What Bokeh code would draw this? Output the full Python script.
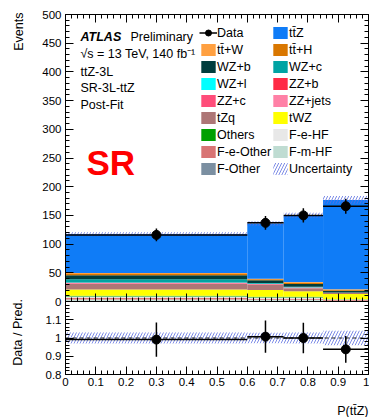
import numpy as np
from bokeh.plotting import figure
from bokeh.models import (Range1d, LinearAxis, FixedTicker, Label, Legend, LegendItem)
from bokeh.embed import file_html
from bokeh.resources import INLINE

FONT = "Liberation Sans"

# ---------------- data ----------------
bin_edges = [0.0, 0.6, 0.72, 0.85, 1.0]
data = [116, 137, 150, 166]
data_err = [11, 12, 12.5, 13]
total_unc = [3.5, 4.0, 4.5, 7.0]

# stacked backgrounds (bottom -> top)
f_other = [1.5, 1.2, 1.2, 0.6]
f_m_hf = [2.0, 1.8, 1.8, 0.9]
f_e_other = [2.5, 2.0, 2.0, 1.0]
f_e_hf = [2.5, 2.0, 2.0, 1.0]
others = [1.5, 1.4, 1.4, 0.5]
twz = [11.0, 11.6, 9.4, 9.0]
tzq = [9.5, 9.0, 5.5, 1.8]
zz_jets = [0.8, 0.6, 0.5, 0.2]
zz_c = [0.8, 0.6, 0.4, 0.2]
zz_b = [0.6, 0.4, 0.3, 0.1]
wz_l = [0.3, 0.3, 0.2, 0.1]
wz_c = [5.8, 1.5, 1.0, 0.4]
wz_b = [7.0, 4.5, 5.0, 3.0]
tth = [2.2, 1.8, 2.2, 1.5]
ttw = [1.5, 1.0, 1.1, 0.9]
ttz = [67.5, 96.3, 116.0, 155.8]

stack = [
    ("F-Other", f_other, "#7B8FA1"),
    ("F-m-HF", f_m_hf, "#BFDCD2"),
    ("F-e-Other", f_e_other, "#D87474"),
    ("F-e-HF", f_e_hf, "#E8E8E8"),
    ("Others", others, "#00A000"),
    ("tWZ", twz, "#FFFF00"),
    ("tZq", tzq, "#AD7676"),
    ("ZZ+jets", zz_jets, "#FF80A6"),
    ("ZZ+c", zz_c, "#FF4D7A"),
    ("ZZ+b", zz_b, "#FF2B45"),
    ("WZ+l", wz_l, "#00FFFF"),
    ("WZ+c", wz_c, "#00A3A3"),
    ("WZ+b", wz_b, "#003D3D"),
    ("tt\u0304+H", tth, "#D97700"),
    ("tt\u0304+W", ttw, "#FFA040"),
    ("tt\u0304Z", ttz, "#0F7CF7"),
]

x_ticks = [0.0, 0.1, 0.2, 0.3, 0.4, 0.5, 0.6, 0.7, 0.8, 0.9, 1.0]
x_tick_labels = ["0", "0.1", "0.2", "0.3", "0.4", "0.5", "0.6", "0.7", "0.8", "0.9", "1"]
y_ticks = [0, 50, 100, 150, 200, 250, 300, 350, 400, 450, 500]
r_ticks = [0.8, 0.9, 1.0, 1.1]
r_tick_labels = ["0.8", "0.9", "1", "1.1"]

legend_col1 = ["Data", "tt\u0304+W", "WZ+b", "WZ+l", "ZZ+c", "tZq", "Others", "F-e-Other", "F-Other"]
legend_col2 = ["tt\u0304Z", "tt\u0304+H", "WZ+c", "ZZ+b", "ZZ+jets", "tWZ", "F-e-HF", "F-m-HF", "Uncertainty"]

# ---------------- derived ----------------
left = np.array(bin_edges[:-1])
right = np.array(bin_edges[1:])
centers = (left + right) / 2
data_a = np.array(data, float)
derr = np.array(data_err, float)
total = np.sum([np.array(v, float) for _, v, _ in stack], axis=0)
unc = np.array(total_unc, float)

x_minor = [i / 50 for i in range(51)]
y_minor = [i * 10 for i in range(51)]
r_minor = [0.8 + i * 0.02 for i in range(21)]

# ---------------- canvas geometry (pixels) ----------------
W, H = 369, 417
X0, X1 = 65, 368          # canvas x of P=0 and P=1
MT, MB = 14, 301          # main panel top / bottom (canvas y)
RB = 374                  # ratio panel bottom
YMAX = 500.0
RLO, RHI = 0.8, 1.2

ppx = (X1 - X0) / 1.0
ppy = (MB - MT) / YMAX
ppr = (RB - MB) / (RHI - RLO)

x_range = Range1d(-X0 / ppx, (W - X0) / ppx)
y_range = Range1d(-(H - MB) / ppy, YMAX + MT / ppy)
r_range = Range1d(RLO - (H - RB) / ppr, RHI + MB / ppr)

p = figure(width=W, height=H, output_backend="svg", toolbar_location=None,
           x_range=x_range, y_range=y_range, min_border=0,
           x_axis_location=None, y_axis_location=None)
p.extra_y_ranges = {"ratio": r_range}
p.grid.visible = False
p.outline_line_color = None
p.background_fill_color = "white"
p.border_fill_color = "white"

xt = FixedTicker(ticks=x_ticks, minor_ticks=x_minor)
yt = FixedTicker(ticks=y_ticks, minor_ticks=y_minor)
rt = FixedTicker(ticks=r_ticks, minor_ticks=r_minor)


def add_axis(side, ticker, loc, bounds, labels=False, overrides=None, range_name=None):
    kw = {}
    if range_name is not None:
        kw["y_range_name"] = range_name
    ax = LinearAxis(ticker=ticker, fixed_location=loc, bounds=bounds, **kw)
    ax.major_tick_in = 8
    ax.major_tick_out = 0
    ax.minor_tick_in = 4
    ax.minor_tick_out = 0
    ax.axis_line_color = "black"
    ax.axis_line_width = 1
    ax.major_tick_line_color = "black"
    ax.minor_tick_line_color = "black"
    ax.axis_label = None
    if labels:
        ax.major_label_text_font = FONT
        ax.major_label_text_font_size = "11.5px"
        ax.major_label_text_color = "black"
        ax.major_label_standoff = 4
        if overrides:
            ax.major_label_overrides = overrides
    else:
        ax.major_label_text_font_size = "0px"
        ax.major_label_text_color = None
        ax.major_label_standoff = 0
    p.add_layout(ax, side)
    return ax


# main panel frame + ticks
add_axis("left", yt, 0.0, (0, YMAX), labels=True)
add_axis("right", yt, 1.0, (0, YMAX))
add_axis("above", xt, YMAX, (0, 1))
add_axis("below", xt, 0.0, (0, 1))
# ratio panel frame + ticks
add_axis("left", rt, 0.0, (RLO, RHI), labels=True,
         overrides={t: s for t, s in zip(r_ticks, r_tick_labels)}, range_name="ratio")
add_axis("right", rt, 1.0, (RLO, RHI), range_name="ratio")
bx = add_axis("below", xt, RLO, (0, 1), labels=True,
              overrides={t: s for t, s in zip(x_ticks, x_tick_labels)}, range_name="ratio")
bx.major_label_standoff = 3

# ---------------- main panel content ----------------
renderers = {}
bottom = np.zeros(len(left))
for name, vals, color in stack:
    v = np.array(vals, float)
    r = p.quad(left=left, right=right, bottom=bottom, top=bottom + v,
               fill_color=color, line_color=None)
    renderers[name] = r
    bottom = bottom + v

r_unc = p.quad(left=left, right=right, bottom=total - unc, top=total + unc,
               fill_color=None, line_color=None, hatch_pattern="/",
               hatch_color="#5B6EE0", hatch_alpha=0.8, hatch_scale=6, hatch_weight=1)
renderers["Uncertainty"] = r_unc

p.segment(x0=centers, y0=data_a - derr, x1=centers, y1=data_a + derr,
          line_color="black", line_width=1.5)
r_dh = p.segment(x0=left, y0=data_a, x1=right, y1=data_a, line_color="black", line_width=1.5)
r_dp = p.scatter(x=centers, y=data_a, size=9, marker="circle", fill_color="black", line_color="black")

# ---------------- ratio panel content ----------------
p.quad(left=left, right=right, bottom=1 - unc / total, top=1 + unc / total,
       fill_color=None, line_color=None, hatch_pattern="/", y_range_name="ratio",
       hatch_color="#5B6EE0", hatch_alpha=0.8, hatch_scale=6, hatch_weight=1)
p.segment(x0=[0.0], y0=[1.0], x1=[1.0], y1=[1.0], y_range_name="ratio",
          line_color="#222222", line_width=1.2, line_dash="4 3")
ratio = data_a / total
rerr = derr / total
p.segment(x0=centers, y0=ratio - rerr, x1=centers, y1=ratio + rerr, y_range_name="ratio",
          line_color="black", line_width=1.5)
p.segment(x0=left, y0=ratio, x1=right, y1=ratio, y_range_name="ratio",
          line_color="black", line_width=1.5)
p.scatter(x=centers, y=ratio, size=9, marker="circle", y_range_name="ratio",
          fill_color="black", line_color="black")


# ---------------- legend ----------------
def make_legend(names, cx, cy_top):
    items = []
    for n in names:
        if n == "Data":
            items.append(LegendItem(label=n, renderers=[r_dh, r_dp]))
        else:
            items.append(LegendItem(label=n, renderers=[renderers[n]]))
    n = len(names)
    gw, gh, sp = 18, 15, 2
    h = n * gh + (n - 1) * sp
    lg = Legend(items=items, location=(cx, H - (cy_top + h)), orientation="vertical",
                background_fill_alpha=0, border_line_alpha=0, padding=0, margin=0,
                spacing=sp, glyph_width=gw, glyph_height=gh, label_height=gh,
                label_standoff=0, label_text_font=FONT, label_text_font_size="12.5px",
                label_text_color="black")
    p.add_layout(lg)


make_legend(legend_col1, 199, 25)
make_legend(legend_col2, 271, 25)


# ---------------- texts ----------------
def lab(text, cx, cy, size="12.5px", style="normal", color="black",
        align="left", baseline="alphabetic", angle=0.0):
    p.add_layout(Label(x=cx, y=H - cy, x_units="screen", y_units="screen",
                       text=text, text_font=FONT, text_font_size=size, text_font_style=style,
                       text_color=color, text_align=align, text_baseline=baseline, angle=angle))


lab("ATLAS", 80, 36, style="bold italic")
lab("Preliminary", 130, 36)
lab("\u221As = 13 TeV, 140 fb\u207B\u00B9", 80, 53)
lab("ttZ-3L", 80, 71)
lab("SR-3L-ttZ", 80, 87.5)
lab("Post-Fit", 80, 104)
lab("SR", 86, 162, size="35px", style="bold", color="#FF0000")
lab("Events", 18, 12, align="right", baseline="middle", angle=np.pi / 2)
lab("Data / Pred.", 17, 332, align="center", baseline="middle", angle=np.pi / 2)
lab("P(tt\u0304Z)", 368, 410, align="right", baseline="middle")

open("out.html", "w").write(file_html(p, INLINE))
